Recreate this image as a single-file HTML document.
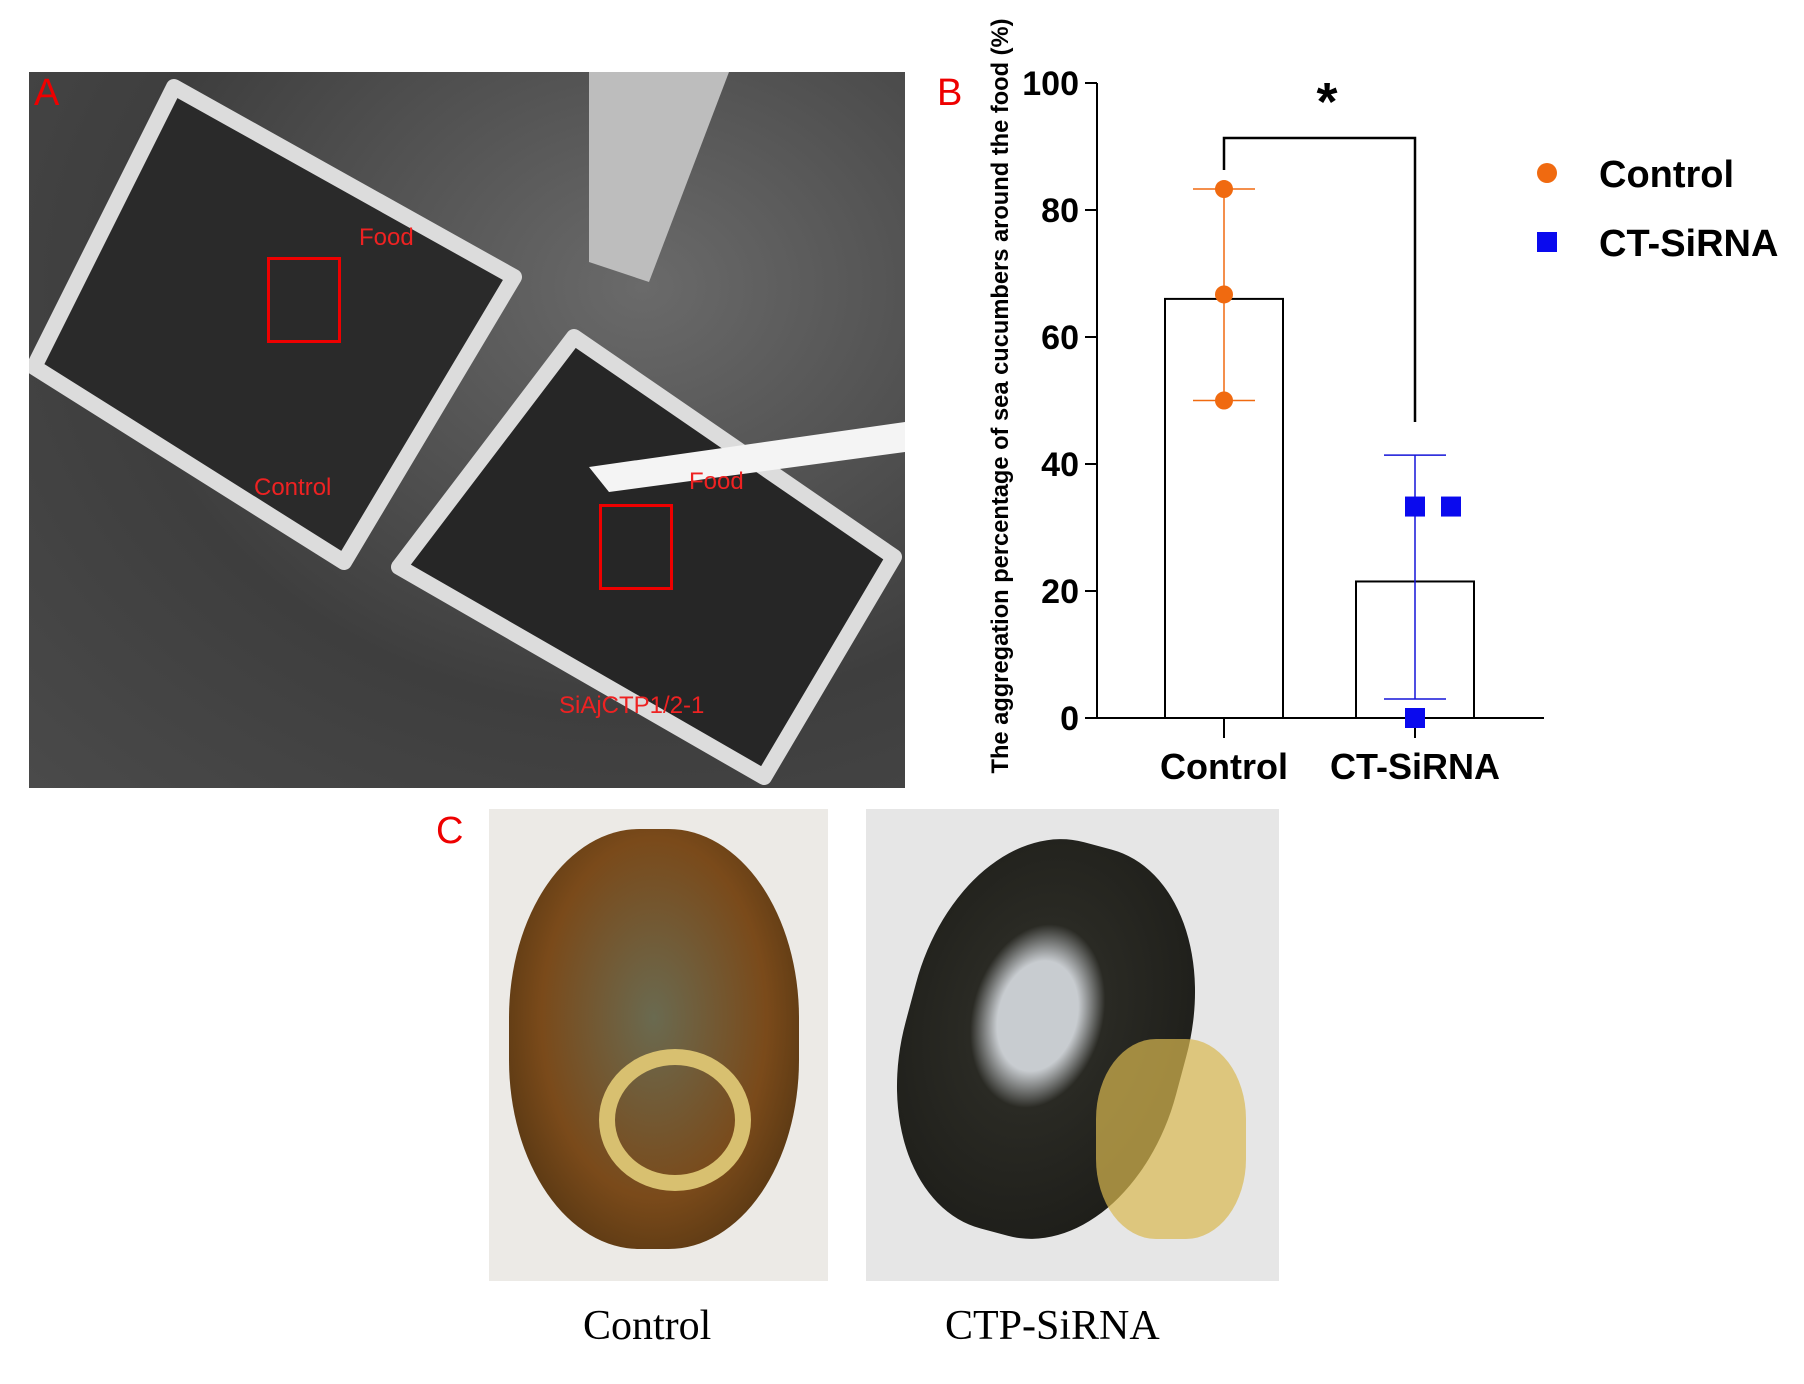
<!DOCTYPE html>
<html><head><meta charset="utf-8"><style>
body{margin:0;width:1804px;height:1384px;background:#fff;position:relative;overflow:hidden;font-family:"Liberation Sans",sans-serif}
.abs{position:absolute}
</style></head><body>
<div class="abs" style="left:29px;top:72px;width:876px;height:716px;background:radial-gradient(ellipse at 70% 30%,#6a6a6a,#3e3e3e 60%,#4a4a4a);overflow:hidden">
  <svg width="876" height="716" class="abs" style="left:0;top:0">
    <polygon points="145,15 485,205 315,490 5,295" fill="#2a2a2a" stroke="#dcdcdc" stroke-width="16" stroke-linejoin="round"/>
    <polygon points="545,265 865,485 735,705 370,495" fill="#262626" stroke="#dcdcdc" stroke-width="16" stroke-linejoin="round"/>
    <polygon points="560,395 876,350 876,380 580,420" fill="#f4f4f4"/>
    <polygon points="560,0 700,0 620,210 560,190" fill="#bdbdbd"/>
  </svg>
  <div class="abs" style="left:238px;top:185px;width:68px;height:80px;border:3px solid #e00"></div>
  <div class="abs" style="left:570px;top:432px;width:68px;height:80px;border:3px solid #e00"></div>
  <div class="abs" style="left:330px;top:152px;color:#e22;font-size:24px">Food</div>
  <div class="abs" style="left:660px;top:396px;color:#e22;font-size:24px">Food</div>
  <div class="abs" style="left:225px;top:402px;color:#e22;font-size:24px">Control</div>
  <div class="abs" style="left:530px;top:620px;color:#e22;font-size:24px">SiAjCTP1/2-1</div>
</div>
<div class="abs" style="left:34px;top:72px;color:#e00;font-size:38px">A</div>
<div class="abs" style="left:937px;top:72px;color:#e00;font-size:38px">B</div>
<div class="abs" style="left:436px;top:810px;color:#e00;font-size:38px">C</div>

<div class="abs" style="left:489px;top:809px;width:339px;height:472px;background:#eceae6;overflow:hidden">
  <div class="abs" style="left:20px;top:20px;width:290px;height:420px;border-radius:45%;background:radial-gradient(ellipse at 50% 45%,#6a6a50,#7a4a1a 55%,#4a3010 90%)"></div>
  <div class="abs" style="left:110px;top:240px;width:120px;height:110px;border-radius:50%;border:16px solid #d8c070"></div>
</div>
<div class="abs" style="left:866px;top:809px;width:413px;height:472px;background:#e6e6e6;overflow:hidden">
  <div class="abs" style="left:40px;top:30px;width:280px;height:400px;border-radius:45%;background:radial-gradient(ellipse at 45% 45%,#c8ccd0 18%,#2a2a24 30%,#1c1c18 85%);transform:rotate(15deg)"></div>
  <div class="abs" style="left:230px;top:230px;width:150px;height:200px;border-radius:40%;background:#d8b850;opacity:.7"></div>
</div>
<div class="abs" style="left:583px;top:1302px;font-family:'Liberation Serif',serif;font-size:42px">Control</div>
<div class="abs" style="left:945px;top:1302px;font-family:'Liberation Serif',serif;font-size:42px">CTP-SiRNA</div>

<svg class="abs" style="left:0;top:0" width="1804" height="1384" id="chart"></svg>
<script>
const categories=["Control","CT-SiRNA"];
const means=[66,21.5];
const errLow=[50,3];
const errHigh=[83.3,41.4];
const controlPts=[83.3,66.7,50];
const ctPts=[33.3,33.3,0];
const yTicks=[0,20,40,60,80,100];
const svg=document.getElementById('chart');
const NS='http://www.w3.org/2000/svg';
const X0=1097,Y0=718,Y100=83;
const y=v=>Y0-(Y0-Y100)*v/100;
const cx=i=>[1224,1415][i];
function mk(t,a,p){const e=document.createElementNS(NS,t);for(const k in a)e.setAttribute(k,a[k]);(p||svg).appendChild(e);return e;}
let e;
e=mk('line',{x1:X0,y1:y(100),x2:X0,y2:Y0,stroke:'#000','stroke-width':2});

e=mk('line',{x1:X0,y1:Y0,x2:1544,y2:Y0,stroke:'#000','stroke-width':2});

yTicks.forEach(t=>{
  mk('line',{x1:X0-12,y1:y(t),x2:X0,y2:y(t),stroke:'#000','stroke-width':2});
  e=mk('text',{x:X0-18,y:y(t)+12,'text-anchor':'end','font-size':34,'font-weight':'bold','font-family':'Liberation Sans'});
  e.textContent=t;
  
});
categories.forEach((c,i)=>{
  e=mk('rect',{x:cx(i)-59,y:y(means[i]),width:118,height:Y0-y(means[i]),fill:'#fff',stroke:'#000','stroke-width':2});
  
  mk('line',{x1:cx(i),y1:Y0,x2:cx(i),y2:Y0+20,stroke:'#000','stroke-width':2});
  e=mk('text',{x:cx(i),y:779,'text-anchor':'middle','font-size':36,'font-weight':'bold','font-family':'Liberation Sans'});
  e.textContent=c;
  
  const col=i?'#1515d8':'#f06a10';
  mk('line',{x1:cx(i),y1:y(errHigh[i]),x2:cx(i),y2:y(errLow[i]),stroke:col,'stroke-width':1.5});
  [errHigh[i],errLow[i]].forEach(v=>mk('line',{x1:cx(i)-31,y1:y(v),x2:cx(i)+31,y2:y(v),stroke:col,'stroke-width':1.5}));
});
controlPts.forEach(v=>{e=mk('circle',{cx:cx(0),cy:y(v),r:9,fill:'#f06a10'});
  });
const ctOff=[0,36,0];
ctPts.forEach((v,k)=>{e=mk('rect',{x:cx(1)+ctOff[k]-10,y:y(v)-10,width:20,height:20,fill:'#0a0aee'});
  });
e=mk('polyline',{points:`${cx(0)},170 ${cx(0)},138 ${cx(1)},138 ${cx(1)},422`,fill:'none',stroke:'#000','stroke-width':2.5});

e=mk('text',{x:1327,y:120,'text-anchor':'middle','font-size':54,'font-weight':'bold','font-family':'Liberation Sans'});e.textContent='*';

e=mk('text',{x:0,y:0,transform:'translate(1008,396) rotate(-90)','text-anchor':'middle','font-size':24,'font-weight':'bold','font-family':'Liberation Sans',textLength:755,lengthAdjust:'spacingAndGlyphs'});
e.textContent='The aggregation percentage of sea cucumbers around the food (%)';

e=mk('circle',{cx:1547,cy:173,r:10,fill:'#f06a10'});

e=mk('text',{x:1599,y:187,'font-size':38,'font-weight':'bold','font-family':'Liberation Sans'});e.textContent='Control';

e=mk('rect',{x:1537,y:232,width:20,height:20,fill:'#0a0aee'});

e=mk('text',{x:1599,y:256,'font-size':38,'font-weight':'bold','font-family':'Liberation Sans'});e.textContent='CT-SiRNA';

</script>
</body></html>
